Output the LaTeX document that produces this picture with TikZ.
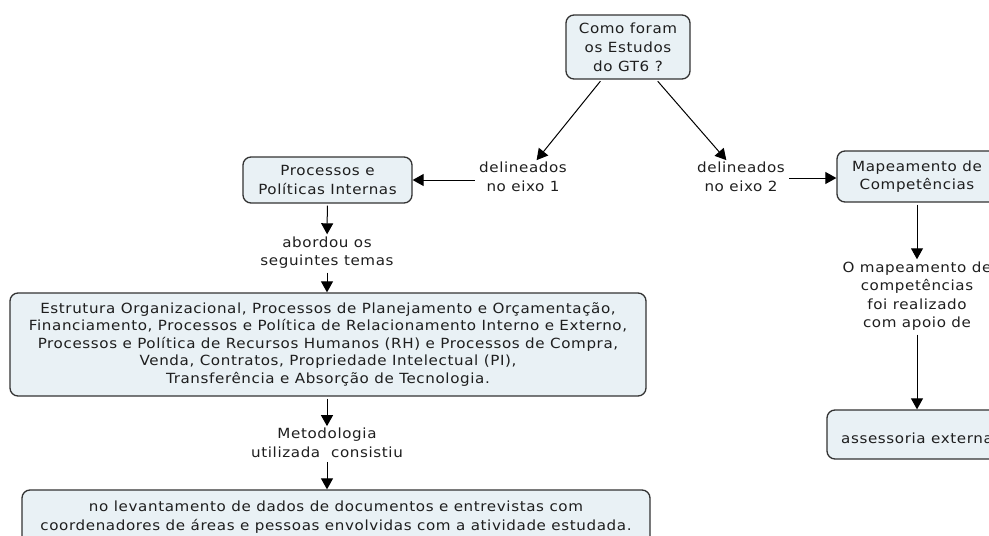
\documentclass[tikz,border=0pt]{standalone}
\usepackage{fontspec}
\setmainfont{DejaVu Sans}[FakeStretch=1.08, LetterSpace=4.4]
\usetikzlibrary{arrows.meta}
\definecolor{boxfill}{RGB}{233,241,245}
\definecolor{boxline}{RGB}{51,51,51}
\definecolor{txt}{RGB}{30,30,30}
\begin{document}
\begin{tikzpicture}[x=1pt,y=-1pt,
  font=\fontsize{14}{18.5}\selectfont,
  concept/.style={draw=boxline, line width=1.3pt, fill=boxfill, rounded corners=8pt, align=center, text=txt, inner sep=0pt},
  lbl/.style={align=center, text=txt, inner sep=2pt},
  conn/.style={-{Triangle[length=11pt,width=12pt]}, line width=1pt, black, shorten <=2pt}]
\useasboundingbox (0,0) rectangle (989,536);
\clip (0,0) rectangle (989,536);
\node[concept, minimum width=124pt, minimum height=64pt, font=\fontsize{14}{19}\selectfont] (q) at (628,47) {Como foram\\os Estudos\\do GT6 ?};
\node[lbl] (e1) at (523,177) {delineados\\no eixo 1};
\node[lbl] (e2) at (741,177) {delineados\\no eixo 2};
\node[concept, minimum width=169pt, minimum height=46pt] (ppi) at (327.5,180) {Processos e\\Políticas Internas};
\node[concept, minimum width=160pt, minimum height=51pt] (mc) at (917,176.5) {Mapeamento de\\Competências};
\node[lbl] (ab) at (327,252.5) {abordou os\\seguintes temas};
\node[concept, minimum width=636pt, minimum height=103pt, font=\fontsize{14}{17.5}\selectfont] (temas) at (328,344.5) {Estrutura Organizacional, Processos de Planejamento e Orçamentação,\\Financiamento, Processos e Política de Relacionamento Interno e Externo,\\Processos e Política de Recursos Humanos (RH) e Processos de Compra,\\Venda, Contratos, Propriedade Intelectual (PI),\\Transferência e Absorção de Tecnologia.};
\node[lbl] (met) at (327,443) {Metodologia\\utilizada\ \ consistiu};
\node[concept, minimum width=628pt, minimum height=54pt] (lev) at (336,517) {no levantamento de dados de documentos e entrevistas com\\coordenadores de áreas e pessoas envolvidas com a atividade estudada.};
\node[lbl] (om) at (917,296) {O mapeamento de\\competências\\foi realizado\\com apoio de};
\node[concept, minimum width=180pt, minimum height=49pt] (ass) at (917,434.5) {\mbox{}\\assessoria externa};
\draw[conn] (q) -- (e1);
\draw[conn] (q) -- (e2);
\draw[conn] (e1.west |- ppi) -- (ppi.east);
\draw[conn] (e2.east |- 0,178) -- (mc.west |- 0,178);
\draw[conn] (ppi) -- (ab);
\draw[conn] (ab) -- (ab |- temas.north);
\draw[conn] (ab |- temas.south) -- (met);
\draw[conn] (met) -- (met |- lev.north);
\draw[conn] (mc.south) -- (om.north);
\draw[conn] (om.south) -- (ass.north);
\end{tikzpicture}
\end{document}
